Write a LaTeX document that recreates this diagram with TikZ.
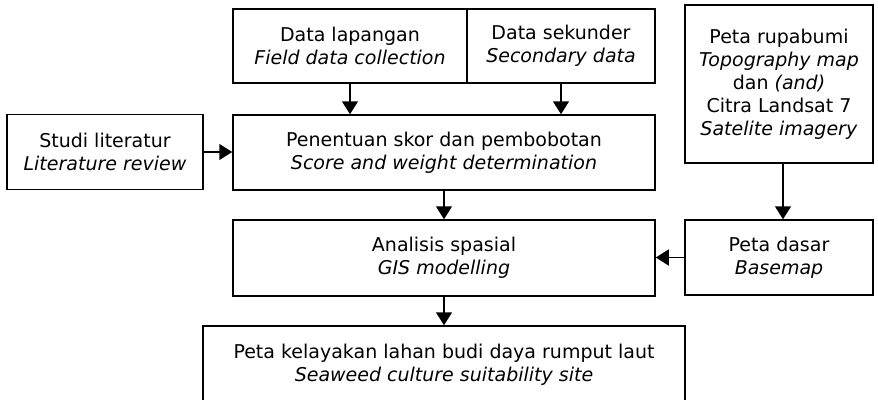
\documentclass[tikz,border=0pt]{standalone}
\usepackage{fontspec}
\setmainfont{DejaVu Sans}
\usepackage{tikz}
\usetikzlibrary{arrows.meta,calc}
\tikzset{
  box/.style={draw,line width=1.5pt,align=center,inner sep=0pt,
    font=\fontsize{19}{23}\selectfont},
  arr/.style={line width=1.5pt,-{Triangle[length=13pt,width=16pt]}}
}
\begin{document}
\begin{tikzpicture}[x=1pt,y=-1pt]
\useasboundingbox (0,0) rectangle (878,399);
\node[box,minimum width=234pt,minimum height=74pt] (lap) at (350,46) {Data lapangan\\\textit{Field data collection}};
\node[box,minimum width=188pt,minimum height=74pt] (sek) at (561,46) {Data sekunder\\\textit{Secondary data}};
\node[box,minimum width=188pt,minimum height=158pt] (rupa) at (779,84) {Peta rupabumi\\\textit{Topography map}\\dan \textit{(and)}\\Citra Landsat 7\\\textit{Satelite imagery}};
\node[box,minimum width=196pt,minimum height=75pt] (lit) at (105,152) {Studi literatur\\\textit{Literature review}};
\node[box,minimum width=422pt,minimum height=75pt] (pen) at (444,152.5) {Penentuan skor dan pembobotan\\\textit{Score and weight determination}};
\node[box,minimum width=422pt,minimum height=76pt] (ana) at (444,258) {Analisis spasial\\\textit{GIS modelling}};
\node[box,minimum width=188pt,minimum height=75pt] (dasar) at (779,257.5) {Peta dasar\\\textit{Basemap}};
\node[box,minimum width=482pt,minimum height=77pt] (kel) at (444,364.5) {Peta kelayakan lahan budi daya rumput laut\\\textit{Seaweed culture suitability site}};
\draw[arr] (lap.south) -- (lap.south |- pen.north);
\draw[arr] (sek.south) -- (sek.south |- pen.north);
\draw[arr] (lit.east) -- (lit.east -| pen.west);
\draw[arr] (pen.south) -- (ana.north);
\draw[arr] ([xshift=4pt]rupa.south) -- ([xshift=4pt]dasar.north);
\draw[arr] (dasar.west) -- (dasar.west -| ana.east);
\draw[arr] (ana.south) -- (kel.north);
\end{tikzpicture}
\end{document}
